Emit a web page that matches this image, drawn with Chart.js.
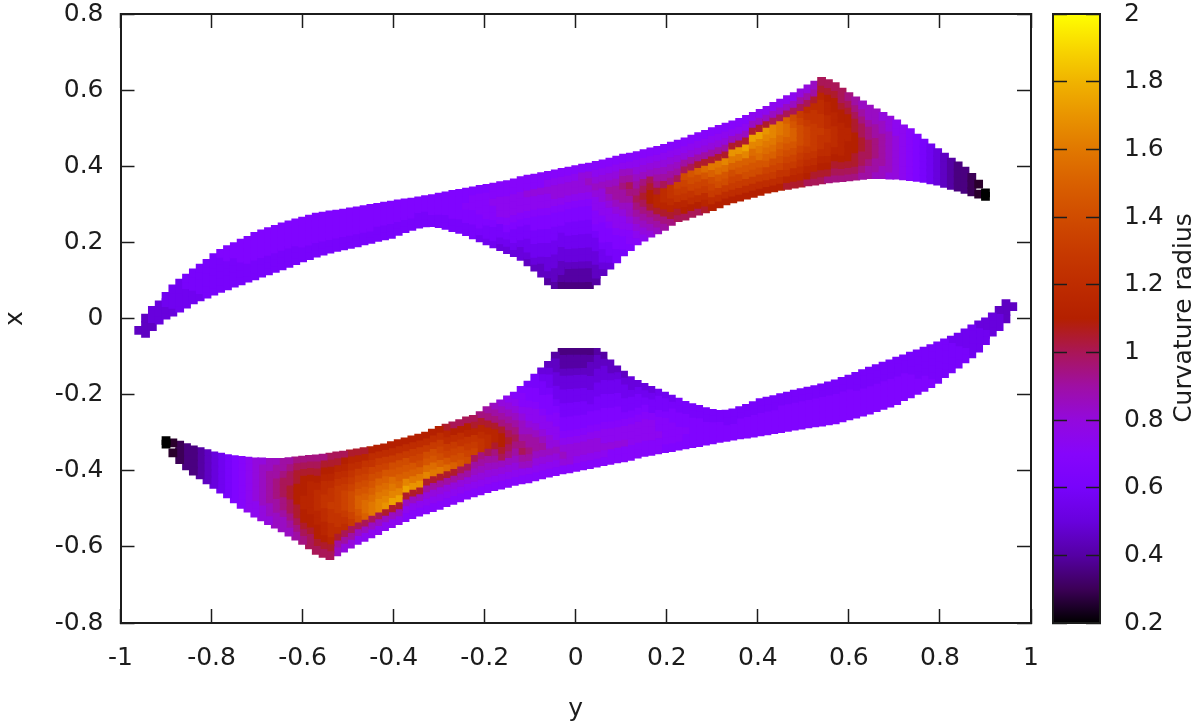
<!DOCTYPE html>
<html>
<head>
<meta charset="utf-8">
<script src="https://cdn.jsdelivr.net/npm/chart.js@4"></script>
<style>
  html, body { margin: 0; padding: 0; background: #fff; }
  canvas { position: absolute; top: 0; }
  #mapChart { left: 0; }
  #barChart { left: 1040px; }
</style>
</head>
<body>
<canvas id="mapChart" width="1040" height="728"></canvas>
<canvas id="barChart" width="160" height="728"></canvas>
<script>
// tick labels
const yTicks = [-1, -0.8, -0.6, -0.4, -0.2, 0, 0.2, 0.4, 0.6, 0.8, 1];
const xTicks = [-0.8, -0.6, -0.4, -0.2, 0, 0.2, 0.4, 0.6, 0.8];
const cbTicks = [0.2, 0.4, 0.6, 0.8, 1, 1.2, 1.4, 1.6, 1.8, 2];
const cbStops = [0.2, 0.3, 0.4, 0.5, 0.6, 0.7, 0.8, 0.9, 1, 1.1, 1.2, 1.3, 1.4, 1.5, 1.6, 1.7, 1.8, 1.9, 2];

// Column by column: [y, x of first cell, x of last cell, levels]
// each level char is base 36, curvature = 0.2 + 0.05 * level
const upperCols = [
[-.96,-.031,-.031,'5'],[-.945,-.039,.001,'555'],[-.93,-.021,.021,'566'],[-.915,-.004,.036,'666'],[-.9,.009,.058,'6677'],[-.885,.017,.078,'6777'],
[-.87,.027,.093,'77777'],[-.855,.038,.106,'77788'],[-.84,.049,.12,'77888'],[-.825,.057,.132,'78888'],[-.81,.064,.145,'888888'],[-.795,.072,.16,'888888'],
[-.78,.079,.171,'888889'],[-.765,.086,.181,'888899'],[-.75,.093,.189,'888899'],[-.735,.099,.198,'888999'],[-.72,.106,.205,'8889999'],[-.705,.112,.216,'8889999'],
[-.69,.119,.222,'8889999'],[-.675,.125,.228,'8889999'],[-.66,.132,.234,'8889999'],[-.645,.138,.241,'8889999'],[-.63,.145,.246,'8889999'],[-.615,.152,.251,'8889999'],
[-.6,.159,.256,'889999'],[-.585,.165,.261,'889999'],[-.57,.172,.266,'889999'],[-.555,.177,.269,'889999'],[-.54,.182,.272,'889999'],[-.525,.187,.274,'889999'],
[-.51,.191,.277,'889999'],[-.495,.195,.28,'889999'],[-.48,.199,.283,'889999'],[-.465,.204,.286,'889999'],[-.45,.208,.289,'889999'],[-.435,.213,.292,'88999'],
[-.42,.217,.295,'88999'],[-.405,.221,.298,'88999'],[-.39,.229,.301,'88999'],[-.375,.236,.304,'88999'],[-.36,.242,.306,'88999'],[-.345,.248,.309,'8899'],
[-.33,.251,.312,'8899'],[-.315,.252,.315,'88999'],[-.3,.249,.319,'88999'],[-.285,.245,.322,'88999'],[-.27,.239,.326,'889999'],[-.255,.234,.329,'889999'],
[-.24,.228,.332,'8899a99'],[-.225,.22,.335,'8899aa9'],[-.21,.212,.339,'7899aaa9'],[-.195,.204,.342,'7889aaaa9'],[-.18,.196,.345,'7889aabaa'],[-.165,.189,.349,'6788abbbaa'],
[-.15,.181,.352,'6789abbbaa'],[-.135,.173,.356,'67889abbbaa'],[-.12,.163,.362,'667889abbbaa'],[-.105,.149,.366,'5677889abbcaa'],[-.09,.135,.369,'56778899abbcaa'],[-.075,.119,.373,'556778899abbcaa'],
[-.06,.099,.376,'4566778899abbcba'],[-.045,.089,.38,'45566778899abccba'],[-.03,.089,.384,'34556677899abccba'],[-.015,.089,.387,'344566778899abccba'],[0,.089,.391,'344566778899abccba'],[.015,.089,.395,'344566778899abccca'],
[.03,.089,.398,'344566778899abcdca'],[.045,.099,.402,'455667789aabbcdcba'],[.06,.123,.406,'56778999abbccdcba'],[.075,.14,.411,'678899abbcdedcba'],[.09,.157,.416,'8899abbcdeedcba'],[.105,.175,.421,'899abbcdeefedba'],
[.12,.189,.424,'9aabcddefgedba'],[.135,.204,.428,'abcdefgfedcba'],[.15,.214,.433,'bcdefghgfdcba'],[.165,.224,.438,'cdefhiihgdcba'],[.18,.233,.442,'defhjjhfedcba'],[.195,.242,.447,'efhjkkgedcba'],
[.21,.255,.453,'fhjkllfedcba'],[.225,.265,.458,'ghjlmngedcba'],[.24,.269,.464,'gijlmnogecba'],[.255,.276,.471,'giklnopgecba'],[.27,.282,.478,'gikmnoqhecba'],[.285,.288,.484,'hjkmnprhecba'],
[.3,.294,.491,'ikmnoqshecba'],[.315,.301,.497,'ikmoprshecba'],[.33,.309,.503,'ikmoprthecba'],[.345,.314,.509,'ikmnoqsuhdba'],[.36,.319,.515,'ikmnpqsuhdba'],[.375,.324,.523,'ikmopqtvhdba'],
[.39,.329,.531,'ikmopqrtvhdb'],[.405,.334,.539,'ikmoprstvhdb'],[.42,.34,.547,'ikmnpqrstuhdb'],[.435,.343,.557,'ikmnoqrsttgdb'],[.45,.347,.566,'iklnopqrssgdb'],[.465,.35,.575,'hjlmnopqrrqgdb'],
[.48,.353,.583,'hjkmnopqqpogdb'],[.495,.356,.593,'hjklmnooonmgec'],[.51,.359,.603,'gijklmnnnmlkgec'],[.525,.361,.613,'ghjklmmmmllkhed'],[.54,.364,.623,'ghijkllmllkkjhg'],[.555,.367,.617,'fhijkkllkkjjihg'],
[.57,.369,.609,'fghijkkkjjiihg'],[.585,.37,.595,'fghijjjjjiihgg'],[.6,.372,.583,'fghiiijjiihgf'],[.615,.374,.572,'fghhiiihhgfe'],[.63,.376,.561,'efgghhggfed'],[.645,.378,.55,'eefgggffedd'],
[.66,.378,.54,'deefffeedd'],[.675,.378,.531,'ddeeeeeddc'],[.69,.377,.521,'cddddddcc'],[.705,.377,.511,'ccccccbb'],[.72,.375,.498,'bbbbbbbb'],[.735,.373,.488,'aaaaaaa'],
[.75,.371,.474,'9999999'],[.765,.368,.461,'888888'],[.78,.364,.448,'777777'],[.795,.361,.436,'66666'],[.81,.355,.424,'55555'],[.825,.35,.411,'4444'],
[.84,.345,.401,'3333'],[.855,.339,.387,'3333'],[.87,.333,.371,'222'],[.885,.327,.353,'11'],[.9,.321,.33,'00']
];

// lower lobe, each column listed from its top edge downwards
const lowerCols = [
[.96,.031,.031,'5'],[.945,.039,-.001,'555'],[.93,.021,-.021,'566'],[.915,.004,-.036,'666'],[.9,-.009,-.058,'6677'],[.885,-.017,-.078,'6777'],
[.87,-.027,-.093,'77777'],[.855,-.038,-.106,'77788'],[.84,-.049,-.12,'77888'],[.825,-.057,-.132,'78888'],[.81,-.064,-.145,'888888'],[.795,-.072,-.16,'888888'],
[.78,-.079,-.171,'888889'],[.765,-.086,-.181,'888899'],[.75,-.093,-.189,'888899'],[.735,-.099,-.198,'888999'],[.72,-.106,-.205,'8889999'],[.705,-.112,-.216,'8889999'],
[.69,-.119,-.222,'8889999'],[.675,-.125,-.228,'8889999'],[.66,-.132,-.234,'8889999'],[.645,-.138,-.241,'8889999'],[.63,-.145,-.246,'8889999'],[.615,-.152,-.251,'8889999'],
[.6,-.159,-.256,'889999'],[.585,-.165,-.261,'889999'],[.57,-.172,-.266,'889999'],[.555,-.177,-.269,'889999'],[.54,-.182,-.272,'889999'],[.525,-.187,-.274,'889999'],
[.51,-.191,-.277,'889999'],[.495,-.195,-.28,'889999'],[.48,-.199,-.283,'889999'],[.465,-.204,-.286,'889999'],[.45,-.208,-.289,'889999'],[.435,-.213,-.292,'88999'],
[.42,-.217,-.295,'88999'],[.405,-.221,-.298,'88999'],[.39,-.229,-.301,'88999'],[.375,-.236,-.304,'88999'],[.36,-.242,-.306,'88999'],[.345,-.248,-.309,'8899'],
[.33,-.251,-.312,'8899'],[.315,-.252,-.315,'88999'],[.3,-.249,-.319,'88999'],[.285,-.245,-.322,'88999'],[.27,-.239,-.326,'889999'],[.255,-.234,-.329,'889999'],
[.24,-.228,-.332,'8899a99'],[.225,-.22,-.335,'8899aa9'],[.21,-.212,-.339,'7899aaa9'],[.195,-.204,-.342,'7889aaaa9'],[.18,-.196,-.345,'7889aabaa'],[.165,-.189,-.349,'6788abbbaa'],
[.15,-.181,-.352,'6789abbbaa'],[.135,-.173,-.356,'67889abbbaa'],[.12,-.163,-.362,'667889abbbaa'],[.105,-.149,-.366,'5677889abbcaa'],[.09,-.135,-.369,'56778899abbcaa'],[.075,-.119,-.373,'556778899abbcaa'],
[.06,-.099,-.376,'4566778899abbcba'],[.045,-.089,-.38,'45566778899abccba'],[.03,-.089,-.384,'34556677899abccba'],[.015,-.089,-.387,'344566778899abccba'],[0,-.089,-.391,'344566778899abccba'],[-.015,-.089,-.395,'344566778899abccca'],
[-.03,-.089,-.398,'344566778899abcdca'],[-.045,-.099,-.402,'455667789aabbcdcba'],[-.06,-.123,-.406,'56778999abbccdcba'],[-.075,-.14,-.411,'678899abbcdedcba'],[-.09,-.157,-.416,'8899abbcdeedcba'],[-.105,-.175,-.421,'899abbcdeefedba'],
[-.12,-.189,-.424,'9aabcddefgedba'],[-.135,-.204,-.428,'abcdefgfedcba'],[-.15,-.214,-.433,'bcdefghgfdcba'],[-.165,-.224,-.438,'cdefhiihgdcba'],[-.18,-.233,-.442,'defhjjhfedcba'],[-.195,-.242,-.447,'efhjkkgedcba'],
[-.21,-.255,-.453,'fhjkllfedcba'],[-.225,-.265,-.458,'ghjlmngedcba'],[-.24,-.269,-.464,'gijlmnogecba'],[-.255,-.276,-.471,'giklnopgecba'],[-.27,-.282,-.478,'gikmnoqhecba'],[-.285,-.288,-.484,'hjkmnprhecba'],
[-.3,-.294,-.491,'ikmnoqshecba'],[-.315,-.301,-.497,'ikmoprshecba'],[-.33,-.309,-.503,'ikmoprthecba'],[-.345,-.314,-.509,'ikmnoqsuhdba'],[-.36,-.319,-.515,'ikmnpqsuhdba'],[-.375,-.324,-.523,'ikmopqtvhdba'],
[-.39,-.329,-.531,'ikmopqrtvhdb'],[-.405,-.334,-.539,'ikmoprstvhdb'],[-.42,-.34,-.547,'ikmnpqrstuhdb'],[-.435,-.343,-.557,'ikmnoqrsttgdb'],[-.45,-.347,-.566,'iklnopqrssgdb'],[-.465,-.35,-.575,'hjlmnopqrrqgdb'],
[-.48,-.353,-.583,'hjkmnopqqpogdb'],[-.495,-.356,-.593,'hjklmnooonmgec'],[-.51,-.359,-.603,'gijklmnnnmlkgec'],[-.525,-.361,-.613,'ghjklmmmmllkhed'],[-.54,-.364,-.623,'ghijkllmllkkjhg'],[-.555,-.367,-.617,'fhijkkllkkjjihg'],
[-.57,-.369,-.609,'fghijkkkjjiihg'],[-.585,-.37,-.595,'fghijjjjjiihgg'],[-.6,-.372,-.583,'fghiiijjiihgf'],[-.615,-.374,-.572,'fghhiiihhgfe'],[-.63,-.376,-.561,'efgghhggfed'],[-.645,-.378,-.55,'eefgggffedd'],
[-.66,-.378,-.54,'deefffeedd'],[-.675,-.378,-.531,'ddeeeeeddc'],[-.69,-.377,-.521,'cddddddcc'],[-.705,-.377,-.511,'ccccccbb'],[-.72,-.375,-.498,'bbbbbbbb'],[-.735,-.373,-.488,'aaaaaaa'],
[-.75,-.371,-.474,'9999999'],[-.765,-.368,-.461,'888888'],[-.78,-.364,-.448,'777777'],[-.795,-.361,-.436,'66666'],[-.81,-.355,-.424,'55555'],[-.825,-.35,-.411,'4444'],
[-.84,-.345,-.401,'3333'],[-.855,-.339,-.387,'3333'],[-.87,-.333,-.371,'222'],[-.885,-.327,-.353,'11'],[-.9,-.321,-.33,'00']
];

const ink = '#1c1c1c';
const tickFont = { family: 'DejaVu Sans', size: 25 };

// gnuplot default pm3d palette (rgbformulae 7,5,15)
function palette(v) {
  const g = (v - 0.2) / 1.8;
  const r = Math.sqrt(g);
  const gr = g * g * g;
  const b = Math.max(Math.sin(2 * Math.PI * g), 0);
  return `rgb(${Math.round(r * 255)},${Math.round(gr * 255)},${Math.round(b * 255)})`;
}

function lobe(cols) {
  const pts = [], colors = [];
  cols.forEach(([y, first, last, levels]) => {
    const n = levels.length;
    [...levels].forEach((ch, i) => {
      pts.push({ x: y, y: n > 1 ? first + (last - first) * i / (n - 1) : first });
      colors.push(palette(0.2 + 0.05 * parseInt(ch, 36)));
    });
  });
  return {
    data: pts,
    pointStyle: 'rect',
    pointRadius: 6.2,
    pointBorderWidth: 0,
    pointBackgroundColor: colors,
    showLine: false
  };
}

// fixed box size, no extra room for the edge labels
function fixBox(s, horiz, size) {
  if (horiz) s.height = size; else s.width = size;
  s.paddingLeft = s.paddingRight = s.paddingTop = s.paddingBottom = 0;
}

// axis helper, ticks point inward like gnuplot
function axis(extra, values, min, max, size, labels, pad) {
  const horiz = extra.axis === 'x';
  return Object.assign({
    type: 'linear', min, max,
    afterBuildTicks: s => { s.ticks = values.map(v => ({ value: v })); },
    afterFit: s => fixBox(s, horiz, size),
    grid: { drawOnChartArea: false, drawTicks: true, tickLength: -14, tickWidth: 1.5, tickColor: ink, z: 1 },
    border: { display: true, color: ink, width: 2, z: 1 },
    ticks: { display: labels, color: ink, font: tickFont, padding: pad, maxRotation: 0, autoSkip: false, callback: v => String(v) }
  }, extra);
}

new Chart(document.getElementById('mapChart'), {
  type: 'scatter',
  data: { datasets: [lobe(upperCols), lobe(lowerCols)] },
  options: {
    responsive: false,
    animation: false,
    layout: { padding: 0 },
    plugins: { legend: { display: false }, tooltip: { enabled: false } },
    scales: {
      x: axis({ axis: 'x', position: 'bottom', title: { display: true, text: 'y', color: ink, font: tickFont, padding: { top: 0, bottom: 4 } } }, yTicks, -1, 1, 105, true, 34),
      y: axis({ axis: 'y', position: 'left', title: { display: true, text: 'x', color: ink, font: tickFont, padding: { top: 0, bottom: 0 } } }, xTicks, -0.8, 0.8, 120.5, true, 31),
      xTop: axis({ axis: 'x', position: 'top' }, yTicks, -1, 1, 14, false, 0),
      yRight: axis({ axis: 'y', position: 'right' }, xTicks, -0.8, 0.8, 9, false, 0)
    }
  }
});

const cbTitle = {
  id: 'cbTitle',
  afterDraw(chart) {
    const c = chart.ctx;
    c.save();
    c.translate(144, 318);
    c.rotate(-Math.PI / 2);
    c.fillStyle = ink;
    c.font = '25px "DejaVu Sans"';
    c.textAlign = 'center';
    c.textBaseline = 'middle';
    c.fillText('Curvature radius', 0, 0);
    c.restore();
  }
};

function barFill(ctx) {
  const a = ctx.chart.chartArea;
  if (!a) return palette(1);
  const g = ctx.chart.ctx.createLinearGradient(0, a.bottom, 0, a.top);
  cbStops.forEach(v => g.addColorStop((v - 0.2) / 1.8, palette(v)));
  return g;
}

const plainX = (position, size) => ({
  type: 'category', position, labels: [''], offset: true,
  afterFit: s => fixBox(s, true, size),
  grid: { display: false, drawTicks: false },
  border: { display: true, color: ink, width: 2, z: 1 },
  ticks: { display: false }
});

new Chart(document.getElementById('barChart'), {
  type: 'bar',
  data: {
    labels: [''],
    datasets: [{ data: [[0.2, 2]], backgroundColor: barFill, barPercentage: 1, categoryPercentage: 1, xAxisID: 'x', yAxisID: 'y' }]
  },
  options: {
    responsive: false,
    animation: false,
    layout: { padding: 0 },
    plugins: { legend: { display: false }, tooltip: { enabled: false } },
    scales: {
      x: plainX('bottom', 105),
      xTop: Object.assign(plainX('top', 14), { axis: 'x' }),
      y: axis({ axis: 'y', position: 'right' }, cbTicks, 0.2, 2, 100, true, 38),
      yLeft: axis({ axis: 'y', position: 'left' }, cbTicks, 0.2, 2, 13, false, 0)
    }
  },
  plugins: [cbTitle]
});
</script>
</body>
</html>
